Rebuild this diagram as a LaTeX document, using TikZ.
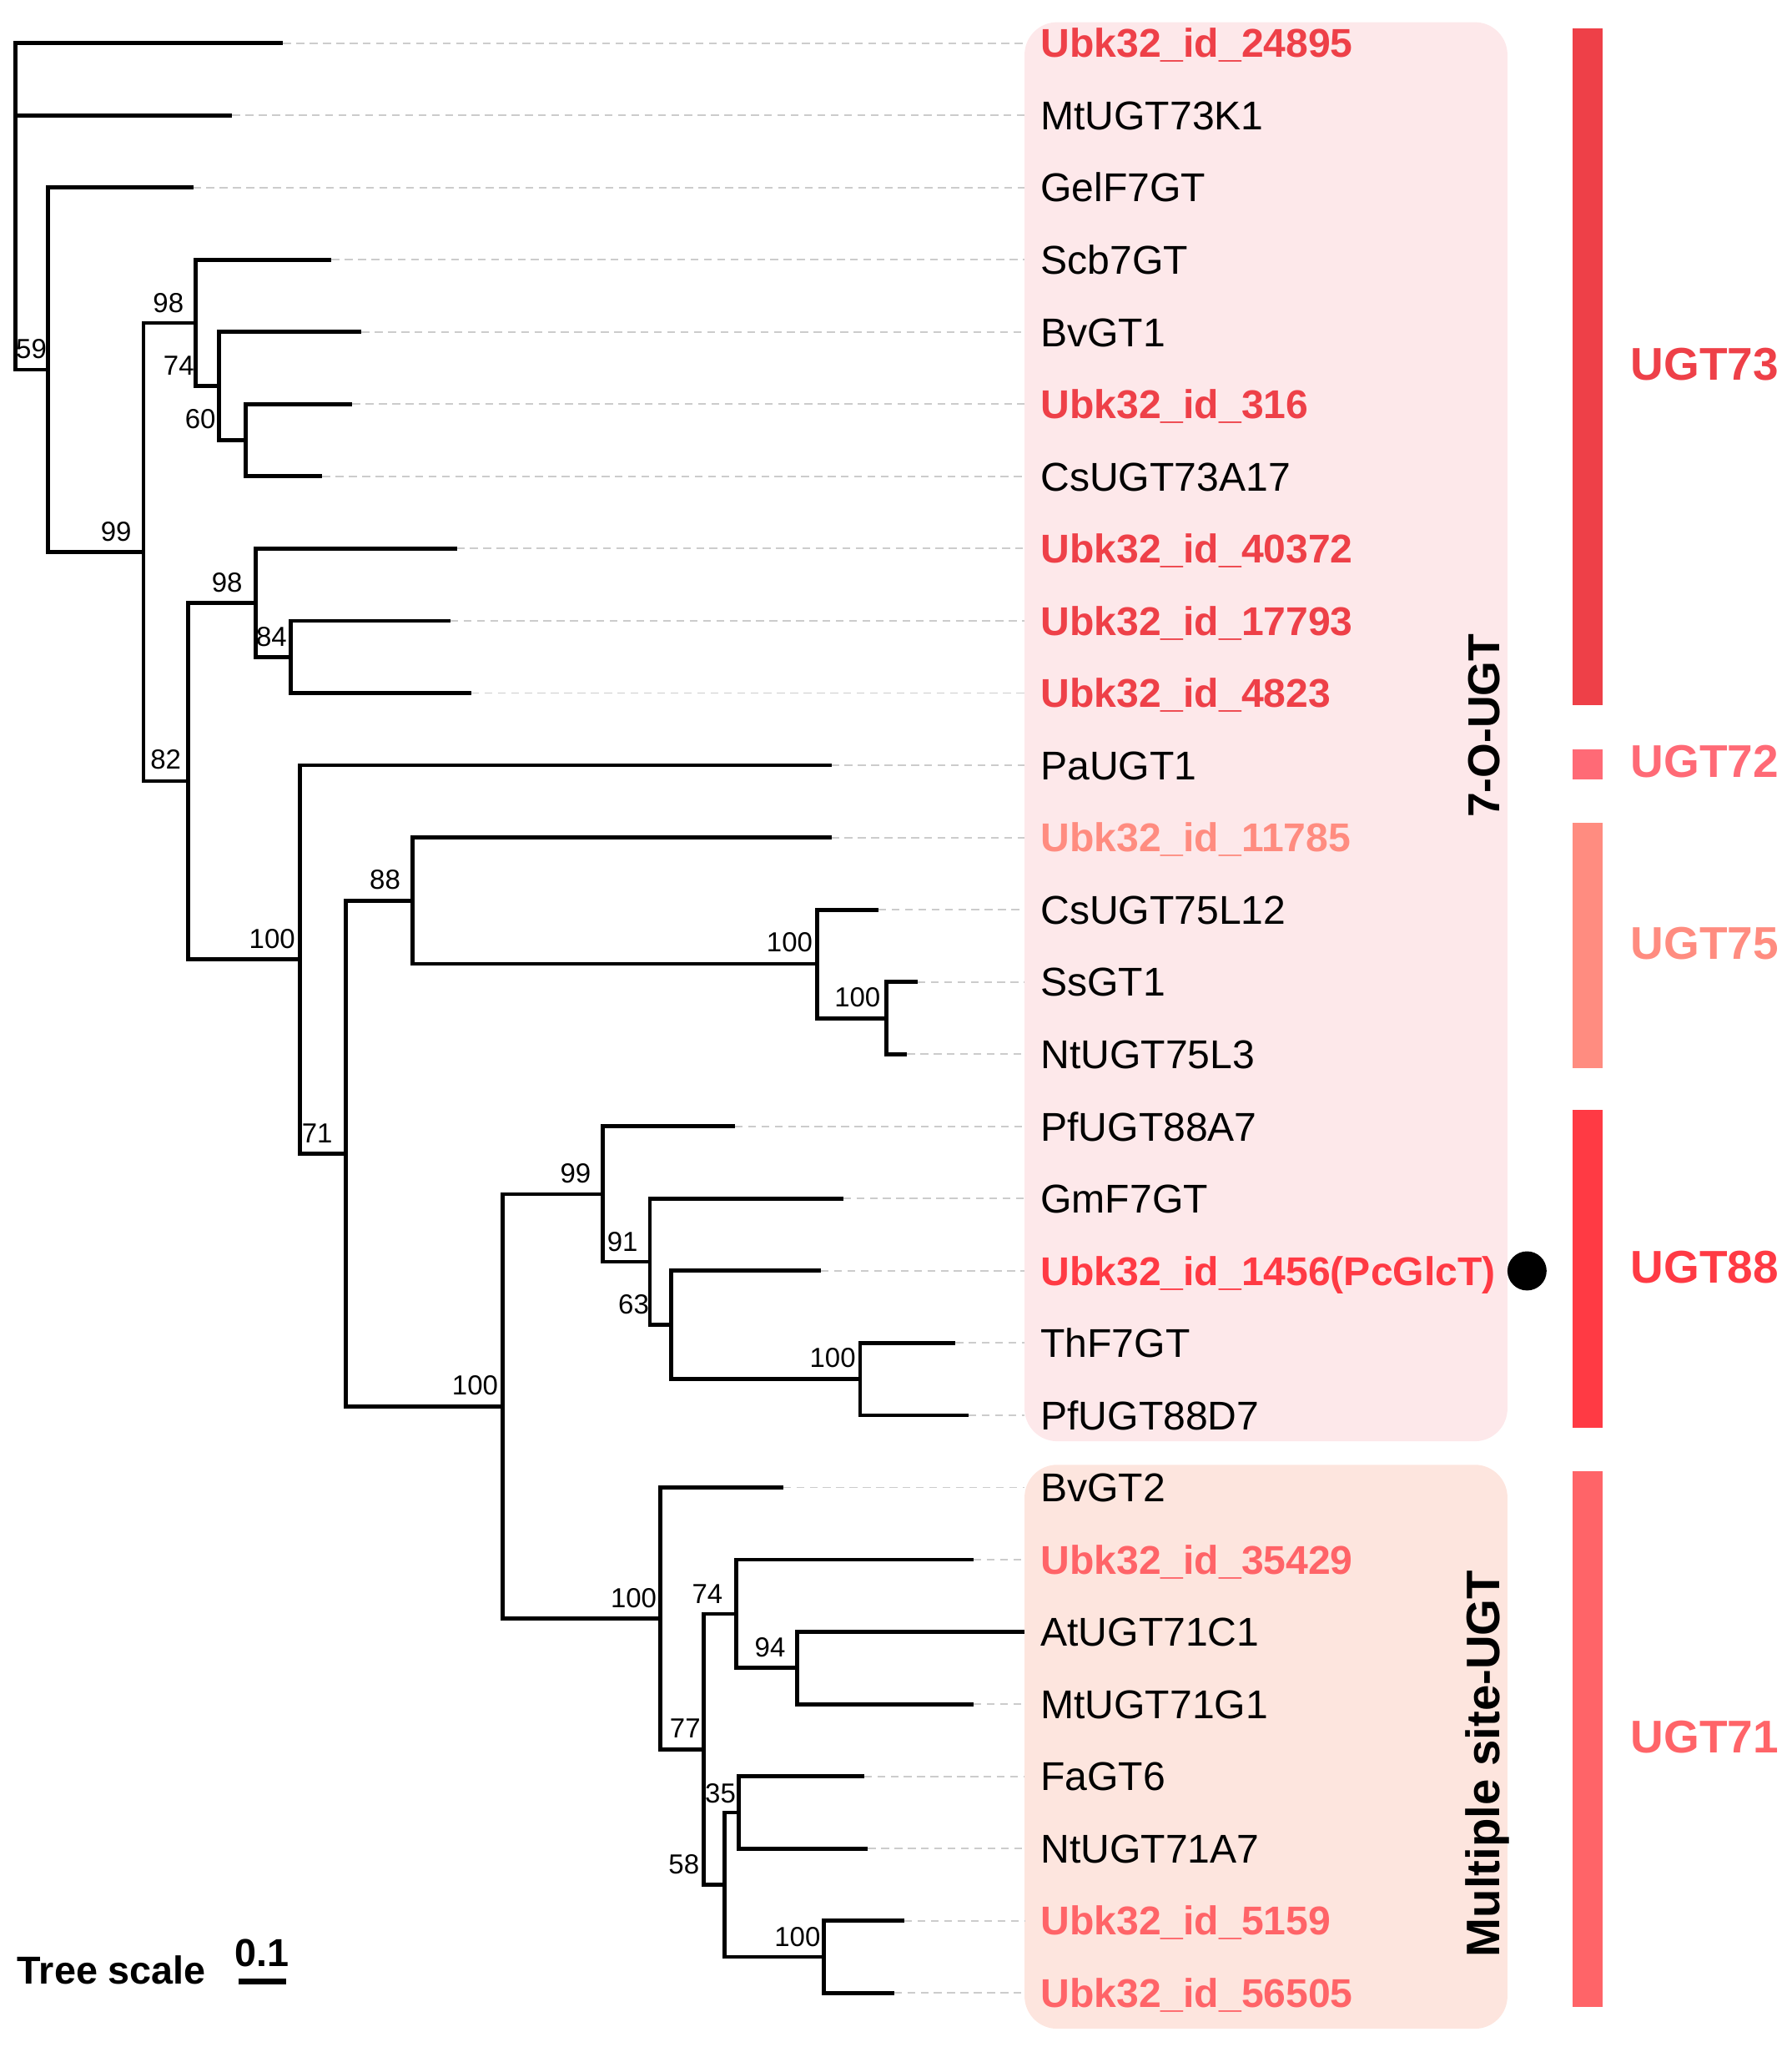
\documentclass[tikz,border=0pt]{standalone}
\usepackage{fontspec}
\setmainfont{Liberation Sans}
\usetikzlibrary{calc}

\definecolor{ugt73}{RGB}{238,64,72}
\definecolor{ugt72}{RGB}{255,106,118}
\definecolor{ugt75}{RGB}{255,140,128}
\definecolor{ugt88}{RGB}{255,58,68}
\definecolor{ugt71}{RGB}{255,100,104}
\definecolor{boxseven}{RGB}{253,232,234}
\definecolor{boxmulti}{RGB}{253,229,222}

\tikzstyle{branch} = [line width=1.75pt, black]
\tikzstyle{guide} = [line width=0.7pt, gray!40, dash pattern=on 3.4pt off 2.4pt]
\tikzstyle{leaf} = [
    anchor=base west, 
    inner sep=0pt, 
    font=\fontsize{17.5}{20}\selectfont
]
\tikzstyle{leaf73} = [leaf, text=ugt73, font=\fontsize{17.5}{20}\selectfont\bfseries]
\tikzstyle{leaf75} = [leaf, text=ugt75, font=\fontsize{17.5}{20}\selectfont\bfseries]
\tikzstyle{leaf88} = [leaf, text=ugt88, font=\fontsize{17.5}{20}\selectfont\bfseries]
\tikzstyle{leaf71} = [leaf, text=ugt71, font=\fontsize{17.5}{20}\selectfont\bfseries]
\tikzstyle{boot} = [inner sep=0pt, font=\fontsize{12}{14}\selectfont]
\tikzstyle{clade} = [inner sep=0pt, font=\fontsize{20}{24}\selectfont\bfseries]
\tikzstyle{group} = [rotate=90, anchor=base, inner sep=0pt]

\begin{document}
\begin{tikzpicture}[x=0.02cm, y=-0.02cm]
    \useasboundingbox (0,0) rectangle (1373,1568);

    % Group boxes
    \fill[boxseven, rounded corners=0.5cm] (785,17) rectangle (1155,1104);
    \fill[boxmulti, rounded corners=0.5cm] (785,1122) rectangle (1155,1554);

    % Leaves: tip, guide line and name
    \foreach \i/\tip/\st/\name in {
        0/217/leaf73/Ubk32\_id\_24895,
        1/178/leaf/MtUGT73K1,
        2/148/leaf/GelF7GT,
        3/254/leaf/Scb7GT,
        4/277/leaf/BvGT1,
        5/270/leaf73/Ubk32\_id\_316,
        6/247/leaf/CsUGT73A17,
        7/350/leaf73/Ubk32\_id\_40372,
        8/345/leaf73/Ubk32\_id\_17793,
        9/361/leaf73/Ubk32\_id\_4823,
        10/637/leaf/PaUGT1,
        11/637/leaf75/Ubk32\_id\_11785,
        12/673/leaf/CsUGT75L12,
        13/703/leaf/SsGT1,
        14/695/leaf/NtUGT75L3,
        15/563/leaf/PfUGT88A7,
        16/646/leaf/GmF7GT,
        17/629/leaf88/Ubk32\_id\_1456(PcGlcT),
        18/732/leaf/ThF7GT,
        19/742/leaf/PfUGT88D7,
        20/600/leaf/BvGT2,
        21/746/leaf71/Ubk32\_id\_35429,
        22/785/leaf/AtUGT71C1,
        23/746/leaf/MtUGT71G1,
        24/662/leaf/FaGT6,
        25/665/leaf/NtUGT71A7,
        26/693/leaf71/Ubk32\_id\_5159,
        27/685/leaf71/Ubk32\_id\_56505}{
        \pgfmathsetmacro{\yy}{33+55.32*\i}
        \coordinate (t\i) at (\tip,\yy);
        \coordinate (e\i) at (785,\yy);
        \draw[guide] (t\i) -- (e\i);
        \node[\st] (l\i) at (797,\yy+11) {\name};
    }

    % Internal nodes
    \coordinate (root) at (12,135);
    \coordinate (nA) at (37,283.2);
    \coordinate (nB) at (110,422.9);
    \coordinate (nC) at (150,247.4);
    \coordinate (nE) at (168,295.8);
    \coordinate (nF) at (188,337.3);
    \coordinate (nD) at (144,598.3);
    \coordinate (nG) at (196,461.7);
    \coordinate (nH) at (223,503.3);
    \coordinate (nI) at (230,734.9);
    \coordinate (nJ) at (265,883.5);
    \coordinate (nL) at (316,689.9);
    \coordinate (nM) at (626,738.3);
    \coordinate (nN) at (679,779.9);
    \coordinate (nP) at (385,1077.2);
    \coordinate (nQ) at (462,914.7);
    \coordinate (nS) at (498,966.5);
    \coordinate (nT) at (514,1014.9);
    \coordinate (nU) at (659,1056.5);
    \coordinate (nR) at (506,1239.7);
    \coordinate (nV) at (539,1339.9);
    \coordinate (nW) at (564,1236.2);
    \coordinate (nY) at (611,1277.7);
    \coordinate (nX) at (555,1443.7);
    \coordinate (nZ) at (566,1388.4);
    \coordinate (nAA) at (631,1499);

    % Branches
    \foreach \p/\c in {root/t0, root/t1, root/nA, nA/t2, nA/nB,
        nB/nC, nB/nD, nC/t3, nC/nE, nE/t4, nE/nF, nF/t5, nF/t6,
        nD/nG, nD/nI, nG/t7, nG/nH, nH/t8, nH/t9,
        nI/t10, nI/nJ, nJ/nL, nJ/nP, nL/t11, nL/nM,
        nM/t12, nM/nN, nN/t13, nN/t14,
        nP/nQ, nP/nR, nQ/t15, nQ/nS, nS/t16, nS/nT,
        nT/t17, nT/nU, nU/t18, nU/t19,
        nR/t20, nR/nV, nV/nW, nV/nX, nW/t21, nW/nY,
        nY/t22, nY/t23, nX/nZ, nX/nAA, nZ/t24, nZ/t25,
        nAA/t26, nAA/t27}
        \draw[branch] (\p) |- (\c);

    % Bootstrap values
    \foreach \x/\y/\v [count=\k] in {24/267/59, 129/232/98, 137/280/74,
        153.5/321/60, 89/407/99, 174/446/98, 208/488/84, 127/582/82,
        208.5/719/100, 295/674/88, 605/722/100, 657/764/100, 243/868/71,
        441/899/99, 477/951/91, 485.5/999/63, 638/1040/100, 364/1061/100,
        485.5/1224/100, 542/1221/74, 590/1262/94, 525/1324/77,
        552/1373.5/35, 524/1428/58, 611/1484/100}
        \node[boot] (bs\k) at (\x,\y) {\v};

    % Marked gene
    \node[circle, fill=black, minimum size=0.6cm, inner sep=0pt] (mark) at (1170,973.5) {};

    % Group labels
    \node[group, font=\fontsize{19.5}{22}\selectfont\bfseries] (sevenO) at (1149,556) {7-O-UGT};
    \node[group, font=\fontsize{20.5}{24}\selectfont\bfseries] (multi) at (1149,1351) {Multiple site-UGT};

    % Subfamily bars
    \foreach \c/\top/\bot/\ly/\lab in {ugt73/22/540/279/UGT73,
        ugt72/574/597/583.5/UGT72, ugt75/630/818/722.5/UGT75,
        ugt88/850/1094/970.5/UGT88, ugt71/1127/1537/1330.5/UGT71}{
        \fill[\c] (1205,\top) rectangle (1228,\bot);
        \node[clade, text=\c] (lab\c) at (1306,\ly) {\lab};
    }

    % Tree scale
    \node[anchor=base west, inner sep=0pt, font=\fontsize{17}{20}\selectfont\bfseries] (tscale) at (13,1520) {Tree scale};
    \node[anchor=base, inner sep=0pt, font=\fontsize{17}{20}\selectfont\bfseries] (tval) at (201,1506) {0.1};
    \coordinate (sbl) at (183,1518);
    \coordinate (sbr) at (219,1518);
    \draw[line width=2.5pt] (sbl) -- (sbr);
\end{tikzpicture}
\end{document}
